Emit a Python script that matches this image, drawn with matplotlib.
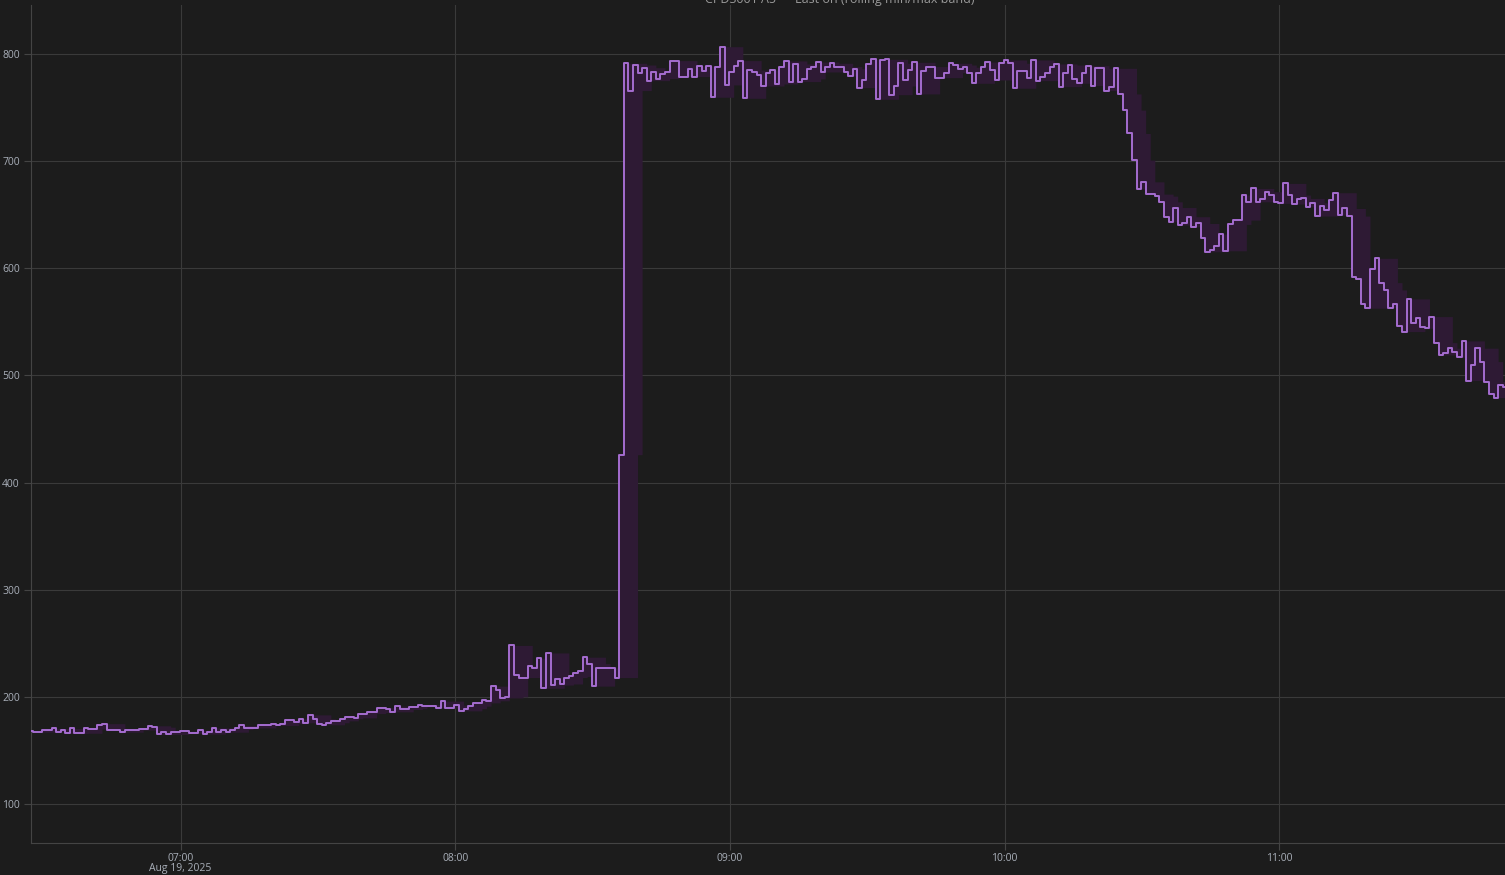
import matplotlib
matplotlib.use('Agg')
import matplotlib.pyplot as plt
import pandas as pd

plt.rcParams['font.family'] = ['Open Sans', 'DejaVu Sans']

# one reading per minute
start_time = '2025-08-19 06:27:20'
last_on = [
    168, 167, 167, 168.6, 168.6, 170.5, 167.3, 169.5, 165.8, 170.5,
    166, 166, 171, 170, 170, 174, 175, 169.5, 168.6, 168.6,
    167, 169, 169, 169, 170, 170, 173, 171.7, 164.9, 167,
    164.9, 167.3, 167.3, 168, 168, 166, 166, 168.6, 165.2, 167,
    171, 167.6, 168.6, 167, 169.5, 171, 173.3, 171, 171, 171,
    173.9, 173.9, 173.3, 174.5, 173.3, 175, 178.2, 178.2, 176.4, 179.5,
    175.8, 183.2, 179.5, 175, 173.9, 175.8, 177.6, 177.6, 179.5, 181.3,
    181.3, 180.4, 184.4, 184.4, 185.4, 185.4, 190, 190, 189, 186,
    191.3, 188.2, 189, 190.7, 190.7, 192.8, 191.9, 191.9, 191.9, 189.7,
    196, 189.4, 189.4, 192.2, 186.9, 189, 191.3, 194.4, 194.4, 197.5,
    196.3, 210, 206, 199, 200, 248, 220, 218, 218, 229,
    227, 236, 208, 241, 211, 217, 212, 218, 219, 222,
    224, 237, 231, 210, 227, 227, 227, 227, 218, 426,
    791.3, 765.8, 789.7, 782, 787.2, 775.1, 783.5, 777, 781.3, 783.2,
    793.8, 793.8, 778.9, 778.9, 785.7, 778.9, 788.8, 784.5, 788.8, 759.6,
    787.6, 806.8, 771.1, 783.5, 788.8, 793.8, 758.6, 785, 782.9, 780.4,
    770.1, 782, 785, 772, 788.2, 793.5, 774.2, 790.7, 774.2, 776.7,
    785.7, 787.6, 792.5, 783.2, 787.6, 791.3, 787.6, 788.2, 783.5, 779.5,
    786.3, 768.6, 775.7, 790.7, 795, 757.7, 794.4, 795, 762, 770.1,
    791.3, 775.7, 785, 792.2, 762.7, 784.1, 788.2, 787.6, 777.9, 777.9,
    782.6, 791.3, 789.7, 786, 787.6, 782, 772.6, 782.6, 788.2, 792.5,
    785, 775.7, 791.3, 794.4, 791.3, 768, 784.1, 784.1, 777.9, 794.4,
    775.1, 778.9, 782, 787.6, 790.7, 769.5, 782, 789.7, 776.4, 772.6,
    782.6, 789.1, 770.5, 786.6, 786.6, 765.8, 769.5, 786.6, 762.7, 747.6,
    725.8, 700.9, 673.9, 680.7, 669.2, 669.2, 667.3, 662, 647.4, 643.4,
    656.7, 640.3, 642.5, 648.1, 638.7, 641.8, 627.8, 615.4, 617, 620.7,
    631.9, 616.3, 640.9, 644.9, 644.9, 668.3, 662, 674.5, 662, 664.2,
    671.4, 668.3, 662, 660.5, 679.2, 668.3, 659.9, 664.2, 665.2, 657.4,
    661.1, 648.7, 658, 654.3, 663.6, 670.5, 649.6, 655.8, 648.7, 591.6,
    590.4, 566.7, 562.7, 599.1, 609.3, 586.6, 579.8, 563.3, 566.4, 546.2,
    540.9, 571.4, 548.7, 553.4, 545, 544, 554.9, 530.6, 519.1, 521.3,
    525.4, 522.3, 517, 532.2, 495.2, 509.8, 525.4, 512.9, 494.3, 482.8,
    479.3, 491.2, 489.6,
]
window = 5

hour_ticks = ['2025-08-19 07:00', '2025-08-19 08:00', '2025-08-19 09:00',
              '2025-08-19 10:00', '2025-08-19 11:00']
hour_labels = ['07:00\nAug 19, 2025', '08:00', '09:00', '10:00', '11:00']
y_ticks = [100, 200, 300, 400, 500, 600, 700, 800]

times = pd.date_range(start_time, periods=len(last_on), freq='1min')
s = pd.Series(last_on, index=times)
band_lo = s.rolling(window, min_periods=1).min()
band_hi = s.rolling(window, min_periods=1).max()

bg = '#1c1c1c'
grid_c = '#3a3a3a'
tick_c = '#a9afb9'

fig = plt.figure(figsize=(15.05, 8.75), dpi=100, facecolor=bg)
ax = fig.add_axes([31 / 1505, 32 / 875, 1 - 31 / 1505, 838 / 875])
ax.set_facecolor(bg)

ax.fill_between(times, band_lo.values, band_hi.values, step='mid',
                color='#2e1a34', linewidth=0, zorder=1)
ax.plot(times, s.values, drawstyle='steps-mid', color='#a56dd0',
        linewidth=1.4, zorder=3)

ax.set_xlim(times[0], times[-1])
ax.set_ylim(63.6, 845.7)
ax.set_xticks(pd.to_datetime(hour_ticks))
ax.set_xticklabels(hour_labels, linespacing=0.95)
ax.set_yticks(y_ticks)
ax.set_yticklabels([str(v) for v in y_ticks])

ax.grid(True, color=grid_c, linewidth=0.8, zorder=0)
ax.set_axisbelow(True)
for side in ['top', 'right']:
    ax.spines[side].set_visible(False)
for side in ['left', 'bottom']:
    ax.spines[side].set_color('#444444')
    ax.spines[side].set_linewidth(0.8)
ax.tick_params(colors=tick_c, labelsize=7.5, length=5, width=0.8,
               color='#444444')
ax.tick_params(axis='x', pad=2)
ax.tick_params(axis='y', pad=3)

fig.text(840 / 1505, 1 - 3 / 875, 'CPDS001 A5 — Last on (rolling min/max band)',
         ha='center', va='baseline', color='#9a9a9a', fontsize=9)

fig.savefig('out.png', dpi=100, facecolor=bg)
